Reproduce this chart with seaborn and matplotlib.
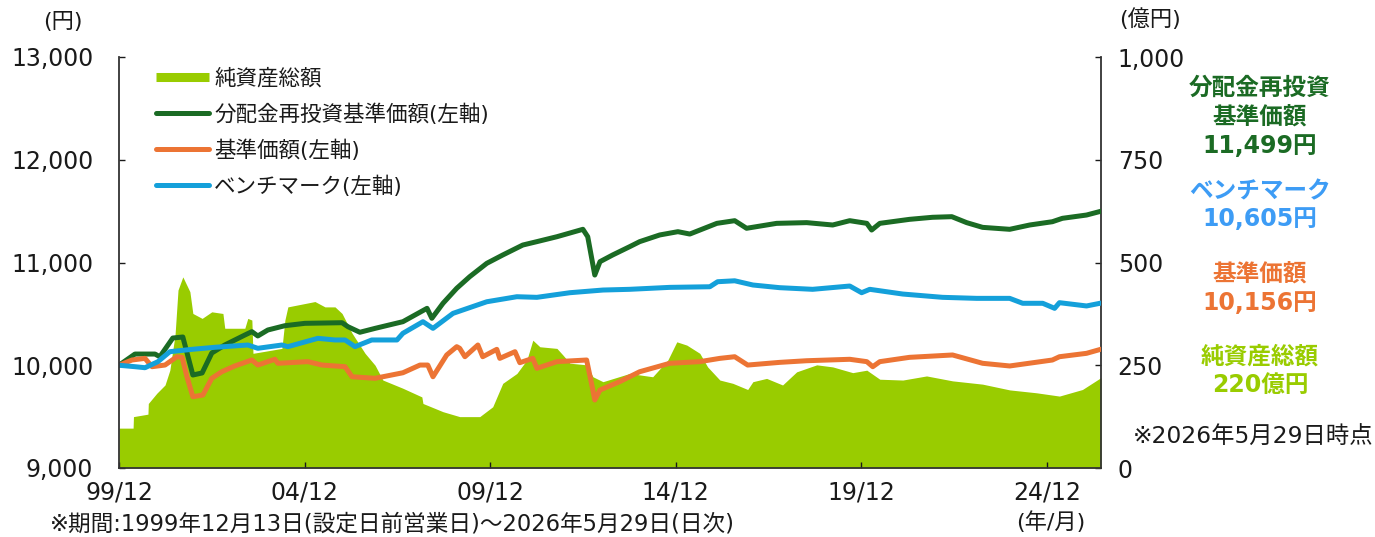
import matplotlib
matplotlib.use("Agg")
import matplotlib.pyplot as plt
from matplotlib.lines import Line2D
from matplotlib.ticker import FuncFormatter
import pandas as pd
import seaborn as sns

# ---------------- data ----------------
# 分配金再投資基準価額 (円)
reinv_t = [1999.95, 2000.38, 2000.92, 2001.05, 2001.40, 2001.67, 2001.94, 2002.19, 2002.45, 2002.80,
           2003.34, 2003.53, 2003.69, 2003.96, 2004.42, 2004.96, 2005.96, 2006.12, 2006.44, 2006.85,
           2007.60, 2008.25, 2008.38, 2008.68, 2009.05, 2009.40, 2009.86, 2010.29, 2010.83, 2011.21,
           2011.75, 2012.45, 2012.58, 2012.77, 2012.91, 2013.25, 2013.71, 2013.98, 2014.52, 2015.01,
           2015.33, 2016.06, 2016.54, 2016.86, 2017.67, 2018.48, 2019.18, 2019.64, 2020.10, 2020.23,
           2020.45, 2021.25, 2021.87, 2022.39, 2022.79, 2023.22, 2023.95, 2024.49, 2025.10, 2025.37,
           2026.02, 2026.41]
reinv_v = [10000, 10109, 10109, 10083, 10265, 10275, 9905, 9925, 10119, 10197,
           10294, 10327, 10285, 10343, 10385, 10408, 10414, 10375, 10321, 10359,
           10424, 10554, 10457, 10603, 10749, 10862, 10992, 11073, 11170, 11203,
           11251, 11323, 11251, 10878, 11008, 11073, 11154, 11203, 11268, 11300,
           11277, 11381, 11407, 11333, 11381, 11388, 11365, 11407, 11381, 11316,
           11381, 11420, 11440, 11446, 11388, 11342, 11323, 11365, 11397, 11430,
           11462, 11499]

# ベンチマーク (円)
bench_t = [1999.95, 2000.38, 2000.65, 2001.00, 2001.32, 2001.92, 2002.54, 2003.42, 2003.69, 2004.34,
           2004.50, 2005.31, 2005.77, 2006.04, 2006.31, 2006.76, 2007.44, 2007.60, 2008.14, 2008.41,
           2008.95, 2009.86, 2010.67, 2011.21, 2012.10, 2012.99, 2013.71, 2014.79, 2015.87, 2016.08,
           2016.54, 2017.03, 2017.75, 2018.64, 2019.64, 2019.96, 2020.18, 2021.07, 2022.14, 2023.06,
           2023.95, 2024.30, 2024.84, 2025.16, 2025.29, 2026.02, 2026.41]
bench_v = [10000, 9986, 9976, 10035, 10132, 10155, 10175, 10197, 10165, 10197,
           10181, 10262, 10246, 10246, 10181, 10246, 10246, 10311, 10424, 10359,
           10505, 10618, 10667, 10661, 10706, 10732, 10739, 10758, 10764, 10813,
           10822, 10781, 10755, 10739, 10771, 10706, 10739, 10693, 10661, 10651,
           10651, 10603, 10603, 10554, 10609, 10577, 10605]

# 基準価額 (円)
nav_t = [1999.95, 2000.30, 2000.65, 2000.84, 2001.19, 2001.51, 2001.65, 2001.78, 2001.94, 2002.21,
         2002.45, 2002.72, 2003.07, 2003.53, 2003.69, 2004.15, 2004.23, 2005.04, 2005.42, 2006.04,
         2006.23, 2006.85, 2007.60, 2008.06, 2008.27, 2008.41, 2008.78, 2009.05, 2009.13, 2009.27,
         2009.62, 2009.75, 2010.13, 2010.21, 2010.62, 2010.75, 2011.10, 2011.21, 2011.75, 2012.55,
         2012.69, 2012.77, 2012.91, 2013.44, 2013.98, 2014.79, 2015.60, 2016.14, 2016.54, 2016.89,
         2017.75, 2018.48, 2019.64, 2020.10, 2020.26, 2020.45, 2021.25, 2022.41, 2023.22, 2023.95,
         2025.10, 2025.29, 2026.02, 2026.41]
nav_v = [10000, 10051, 10067, 9986, 10002, 10083, 10077, 9888, 9694, 9710,
         9873, 9937, 9993, 10051, 10002, 10058, 10019, 10035, 10002, 9986,
         9888, 9873, 9927, 10002, 10002, 9888, 10100, 10181, 10165, 10083,
         10197, 10083, 10155, 10067, 10132, 10025, 10067, 9970, 10035, 10051,
         9808, 9662, 9759, 9840, 9937, 10019, 10035, 10067, 10083, 10002,
         10028, 10044, 10058, 10035, 9986, 10035, 10077, 10100, 10019, 9993,
         10051, 10083, 10116, 10156]

# 純資産総額 (億円)
assets_t = [1999.95, 2000.33, 2000.34, 2000.73, 2000.74, 2000.97, 2001.19, 2001.32, 2001.46, 2001.54,
            2001.67, 2001.86, 2001.94, 2002.19, 2002.45, 2002.75, 2002.80, 2003.34, 2003.42, 2003.53,
            2003.56, 2004.34, 2004.42, 2004.50, 2005.23, 2005.50, 2005.77, 2005.96, 2006.23, 2006.58,
            2006.85, 2007.06, 2007.60, 2008.11, 2008.14, 2008.68, 2009.13, 2009.67, 2010.02, 2010.29,
            2010.67, 2010.94, 2011.10, 2011.29, 2011.75, 2011.91, 2012.10, 2012.55, 2012.72, 2012.99,
            2013.71, 2014.33, 2014.74, 2014.98, 2015.25, 2015.60, 2015.81, 2016.14, 2016.49, 2016.89,
            2017.03, 2017.40, 2017.83, 2018.21, 2018.75, 2019.18, 2019.72, 2020.10, 2020.45, 2021.07,
            2021.71, 2022.41, 2023.22, 2023.95, 2024.67, 2025.29, 2025.91, 2026.41]
assets_v = [97, 97, 125, 131, 157, 182, 202, 238, 324, 433,
            465, 429, 376, 364, 380, 376, 340, 340, 364, 360,
            279, 291, 360, 392, 405, 392, 392, 376, 328, 279,
            250, 214, 194, 173, 157, 137, 125, 125, 149, 206,
            230, 263, 311, 295, 291, 275, 255, 251, 222, 210,
            230, 222, 263, 307, 299, 279, 246, 214, 206, 191,
            210, 218, 202, 234, 251, 246, 232, 238, 216, 214,
            224, 212, 204, 190, 183, 175, 191, 220]

x_tick_pos = [1999.95, 2004.95, 2009.95, 2014.95, 2019.95, 2024.95]
x_tick_labels = ["99/12", "04/12", "09/12", "14/12", "19/12", "24/12"]
left_ticks = [9000, 10000, 11000, 12000, 13000]
right_ticks = [0, 250, 500, 750, 1000]

series_names = ["純資産総額", "分配金再投資基準価額(左軸)", "基準価額(左軸)", "ベンチマーク(左軸)"]

# ---------------- style ----------------
C_REINV = "#1b6b24"
C_NAV = "#ec7434"
C_BENCH = "#14a0da"
C_BENCH_TXT = "#3d9cf5"
C_ASSET = "#99cc00"
C_TXT = "#1a1a1a"

sns.set_theme(style="ticks")
plt.rcParams['font.family'] = ['DejaVu Sans', 'Noto Sans CJK JP']
plt.rcParams['axes.unicode_minus'] = False

W, H = 1375, 537
fig = plt.figure(figsize=(W / 100, H / 100), dpi=100)
fig.patch.set_facecolor("white")

def fx(px):
    return px / W

def fy(py):
    return 1 - py / H

ax1 = fig.add_axes([fx(119), fy(468), fx(1101) - fx(119), fy(57) - fy(468)])
ax2 = ax1.twinx()
ax1.set_zorder(ax2.get_zorder() + 1)
ax1.patch.set_visible(False)

# area (right axis)
assets_df = pd.DataFrame({"t": assets_t, "v": assets_v})
ax2.fill_between(assets_df["t"], 0, assets_df["v"], color=C_ASSET, linewidth=0)

# lines (left axis)
for t, v, c in [(reinv_t, reinv_v, C_REINV), (nav_t, nav_v, C_NAV), (bench_t, bench_v, C_BENCH)]:
    df = pd.DataFrame({"t": t, "v": v})
    sns.lineplot(data=df, x="t", y="v", ax=ax1, color=c, linewidth=3.6, legend=False,
                 solid_capstyle="round")

ax1.set_xlim(1999.95, 2026.41)
ax1.set_ylim(9000, 13000)
ax2.set_ylim(0, 1000)

ax1.set_xticks(x_tick_pos)
ax1.set_xticklabels(x_tick_labels)
ax1.set_yticks(left_ticks)
ax2.set_yticks(right_ticks)
fmt = FuncFormatter(lambda v, p: f"{v:,.0f}")
ax1.yaxis.set_major_formatter(fmt)
ax2.yaxis.set_major_formatter(fmt)
ax1.set_xlabel("")
ax1.set_ylabel("")

for a in (ax1, ax2):
    for s in a.spines.values():
        s.set_visible(False)
    a.grid(False)
ax1.spines["left"].set_visible(True)
ax1.spines["bottom"].set_visible(True)
ax2.spines["right"].set_visible(True)
for s in (ax1.spines["left"], ax1.spines["bottom"], ax2.spines["right"]):
    s.set_color("#333333")
    s.set_linewidth(1.3)

ax1.tick_params(axis="y", direction="in", length=4.5, width=1, pad=18.5, labelsize=17, colors=C_TXT)
ax1.tick_params(axis="x", direction="in", length=4.5, width=1, pad=9, labelsize=17, colors=C_TXT)
ax2.tick_params(axis="y", direction="in", length=4.5, width=1, pad=12, labelsize=17, colors=C_TXT)

# legend
handles = [
    Line2D([], [], color=C_ASSET, linewidth=6.5, solid_capstyle="butt"),
    Line2D([], [], color=C_REINV, linewidth=3.6, solid_capstyle="round"),
    Line2D([], [], color=C_NAV, linewidth=3.6, solid_capstyle="round"),
    Line2D([], [], color=C_BENCH, linewidth=3.6, solid_capstyle="round"),
]
leg = fig.legend(handles, series_names, loc="upper left", bbox_to_anchor=(fx(156), fy(68)),
                 frameon=False, fontsize=15.5, handlelength=2.45, handletextpad=0.25,
                 labelspacing=0.68, borderpad=0, borderaxespad=0)
for t in leg.get_texts():
    t.set_color(C_TXT)

# unit labels
fig.text(fx(63), fy(22), "(円)", ha="center", va="center", fontsize=16, color=C_TXT)
fig.text(fx(1150), fy(19), "(億円)", ha="center", va="center", fontsize=16, color=C_TXT)
fig.text(fx(1051), fy(522), "(年/月)", ha="center", va="center", fontsize=16, color=C_TXT)

# right-side annotations
annots = [
    ("分配金再投資", 88, C_REINV), ("基準価額", 117, C_REINV), (f"{reinv_v[-1]:,}円", 146, C_REINV),
    ("ベンチマーク", 191, C_BENCH_TXT), (f"{bench_v[-1]:,}円", 219, C_BENCH_TXT),
    ("基準価額", 274, C_NAV), (f"{nav_v[-1]:,}円", 303, C_NAV),
    ("純資産総額", 357, C_ASSET), (f"{assets_v[-1]}億円", 385, C_ASSET),
]
for txt, py, c in annots:
    fig.text(fx(1260), fy(py), txt, ha="center", va="center", fontsize=17,
             fontweight="bold", color=c)

fig.text(fx(1253), fy(437), "※2026年5月29日時点", ha="center", va="center", fontsize=16.8, color=C_TXT)
fig.text(fx(50), fy(524), "※期間:1999年12月13日(設定日前営業日)～2026年5月29日(日次)",
         ha="left", va="center", fontsize=16.3, color=C_TXT)

fig.savefig("out.png", dpi=100)
